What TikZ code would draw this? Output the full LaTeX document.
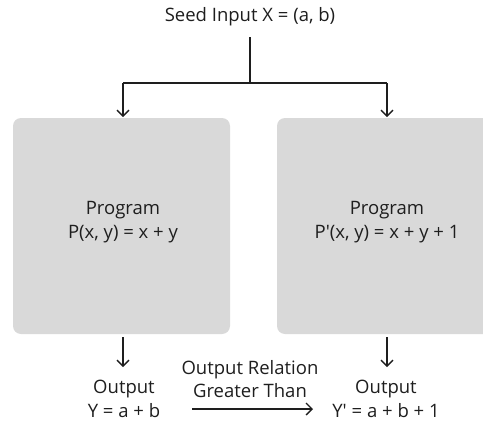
\documentclass[tikz,border=0pt]{standalone}
\usepackage{fontspec}
\setmainfont{Open Sans}
\usetikzlibrary{arrows.meta}
\definecolor{boxgray}{HTML}{D9D9D9}
\definecolor{ink}{HTML}{1E1E1E}
\begin{document}
\begin{tikzpicture}[x=1pt,y=-1pt,
  lbl/.style={font=\fontsize{18.5}{23.5}\selectfont, text=ink, align=center, inner sep=0pt},
  prog/.style={fill=boxgray, rounded corners=8pt, draw=none},
  conn/.style={draw=ink, line width=1.3pt},
  arr/.style={conn, -{Straight Barb[length=6pt,width=12pt]}}
]
\useasboundingbox (0,0) rectangle (483,421);
\clip (0,0) rectangle (483,421);
% boxes
\path[prog] (13,118) rectangle (230,334);
\path[prog] (277,118) rectangle (494,334);
\coordinate (ltop) at (123,117);
\coordinate (rtop) at (387,117);
\coordinate (lbot) at (123,337);
\coordinate (rbot) at (387,337);
% texts
\node[lbl] (seed) at (250,17) {Seed Input X = (a, b)};
\node[lbl] (lprog) at (123,222) {Program\\P(x, y) = x + y};
\node[lbl] (rprog) at (387,222) {Program\\P′(x, y) = x + y + 1};
\node[lbl] (lout) at (124,399) {Output\\Y = a + b};
\node[lbl] (rout) at (386,399) {Output\\Y′ = a + b + 1};
\node[lbl] (rel) at (250,379) {Output Relation\\Greater Than};
% connectors
\coordinate (stem) at (250,37);
\coordinate (split) at (250,83);
\coordinate (sl) at (123,83);
\coordinate (sr) at (387,83);
\draw[conn] (stem) -- (split);
\draw[conn] (sl) -- (sr);
\draw[arr] (sl) -- (ltop);
\draw[arr] (sr) -- (rtop);
\coordinate (lend) at (123,367);
\coordinate (rend) at (387,367);
\draw[arr] (lbot) -- (lend);
\draw[arr] (rbot) -- (rend);
\coordinate (ha) at (192,409);
\coordinate (hb) at (313,409);
\draw[arr] (ha) -- (hb);
\end{tikzpicture}
\end{document}
